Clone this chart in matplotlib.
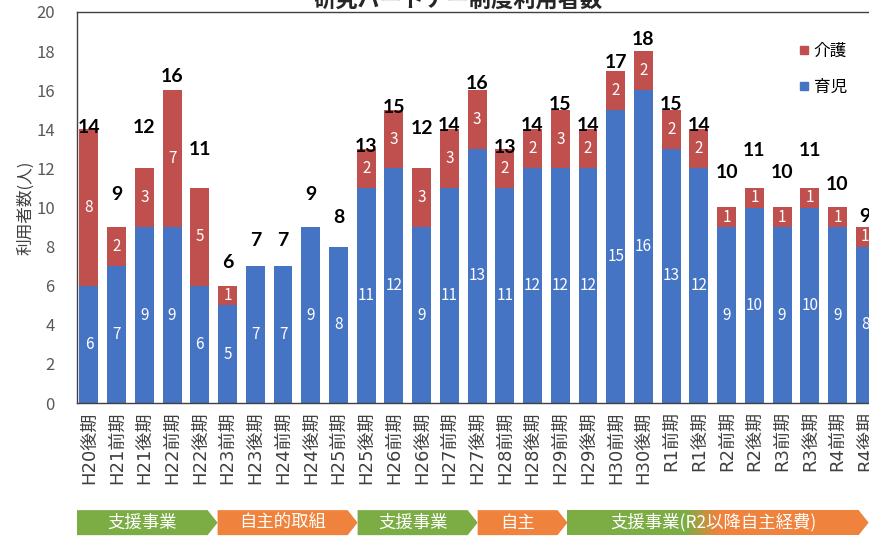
import matplotlib
matplotlib.use('Agg')
import matplotlib.pyplot as plt
import numpy as np
from matplotlib.lines import Line2D
from matplotlib.patches import Polygon, Rectangle
import matplotlib.colors as mcolors

plt.rcParams['font.family'] = ['Noto Sans CJK JP', 'DejaVu Sans']

periods = ['H20後期', 'H21前期', 'H21後期', 'H22前期', 'H22後期', 'H23前期', 'H23後期',
           'H24前期', 'H24後期', 'H25前期', 'H25後期', 'H26前期', 'H26後期', 'H27前期',
           'H27後期', 'H28前期', 'H28後期', 'H29前期', 'H29後期', 'H30前期', 'H30後期',
           'R1前期', 'R1後期', 'R2前期', 'R2後期', 'R3前期', 'R3後期', 'R4前期', 'R4後期']
childcare = [6, 7, 9, 9, 6, 5, 7, 7, 9, 8, 11, 12, 9, 11, 13, 11, 12, 12, 12, 15, 16, 13, 12, 9, 10, 9, 10, 9, 8]
nursing = [8, 2, 3, 7, 5, 1, 0, 0, 0, 0, 2, 3, 3, 3, 3, 2, 2, 3, 2, 2, 2, 2, 2, 1, 1, 1, 1, 1, 1]

# the total labels were moved by hand in the original, lift above bar top in px
total_lift = [-4, 27, 35, 8, 33, 18, 20, 20, 27, 24, -3, -3, 34, -2, 1, -4, -2, 0, -2, 3, 6, 0, -2, 29, 32, 29, 32, 17, 5]

phase_labels = ['支援事業', '自主的取組', '支援事業', '自主', '支援事業(R2以降自主経費)']
phase_edges = [-0.43, 4.64, 9.69, 14.02, 17.26, 28.12]

blue = '#4674C4'
red = '#C0504D'
green = '#7BAD44'
orange = '#EF823C'

fig = plt.figure(figsize=(8.7, 5.39), dpi=100)
ax = fig.add_axes([77 / 870, 136 / 539, 793 / 870, 391 / 539])

x = np.arange(len(periods))
tot = np.array(childcare) + np.array(nursing)
ax.bar(x, childcare, width=0.68, color=blue)
ax.bar(x, nursing, bottom=childcare, width=0.68, color=red)

for i in range(len(periods)):
    ax.text(i, childcare[i] / 2, str(childcare[i]), ha='center', va='center',
            color='white', fontsize=11)
    if nursing[i] > 0:
        ax.text(i, childcare[i] + nursing[i] / 2, str(nursing[i]), ha='center', va='center',
                color='white', fontsize=11)
    ax.annotate(str(tot[i]), (i, tot[i]), xytext=(0, total_lift[i] * 0.72),
                textcoords='offset points', ha='center', va='baseline',
                fontsize=14, fontweight='bold', family=['Lato', 'DejaVu Sans'], color='black')

ax.set_xlim(-0.43, 28.17)
ax.set_ylim(0, 20)
ax.set_yticks(range(0, 21, 2))
ax.set_xticks(x, periods, rotation=90)
for lbl in ax.get_xticklabels():
    lbl.set_family(['DejaVu Sans', 'Noto Sans CJK JP'])
ax.tick_params(axis='x', length=0, pad=6, labelsize=13, labelcolor='#404040')
ax.tick_params(axis='y', length=0, pad=16, labelsize=12, labelcolor='#595959')
ax.set_ylabel('利用者数(人)', fontsize=12, color='#404040')
ax.yaxis.set_label_coords(-0.054, 0.5)

for s in ['left', 'top', 'bottom']:
    ax.spines[s].set_color('#404040')
    ax.spines[s].set_linewidth(1.0)
ax.spines['right'].set_visible(False)

handles = [Line2D([], [], marker='s', ls='', color=red, markersize=6),
           Line2D([], [], marker='s', ls='', color=blue, markersize=6)]
ax.legend(handles, ['介護', '育児'], loc='upper left', bbox_to_anchor=(797 / 870, 1 - 43 / 539),
          bbox_transform=fig.transFigure, frameon=False, fontsize=12, handlelength=0.8,
          handletextpad=0.2, labelspacing=1.15, borderpad=0, borderaxespad=0)

# phase banners under the axis
trans = ax.get_xaxis_transform()
y0, y1 = -0.338, -0.274
ym = (y0 + y1) / 2
tip = 0.36
g = np.array(mcolors.to_rgb(green))
o = np.array(mcolors.to_rgb(orange))
for k, lab in enumerate(phase_labels):
    a, b = phase_edges[k], phase_edges[k + 1]
    if k < 4:
        col = green if k % 2 == 0 else orange
        ax.add_patch(Polygon([(a, y0), (b - tip, y0), (b, ym), (b - tip, y1), (a, y1)],
                             closed=True, transform=trans, clip_on=False, facecolor=col, edgecolor='none'))
    else:
        xs = np.linspace(a, b - tip, 150)
        for j in range(len(xs) - 1):
            t = np.clip(((xs[j] + xs[j + 1]) / 2 - 21.5) / 1.2, 0, 1)
            c = g * (1 - t) + o * t
            ax.add_patch(Rectangle((xs[j], y0), xs[j + 1] - xs[j] + 0.02, y1 - y0, transform=trans,
                                   clip_on=False, facecolor=c, edgecolor='none'))
        ax.add_patch(Polygon([(b - tip, y0), (b, ym), (b - tip, y1)], closed=True, transform=trans,
                             clip_on=False, facecolor=orange, edgecolor='none'))
    ax.text((a + b - tip) / 2, ym, lab, transform=trans, ha='center', va='center',
            color='white', fontsize=12.5, clip_on=False)

fig.text(458 / 870, 1 - 6.5 / 539, '研究パートナー制度利用者数', ha='center', va='baseline',
         fontsize=16, fontweight='bold', color='#262626')

fig.savefig('out.png', dpi=100)
